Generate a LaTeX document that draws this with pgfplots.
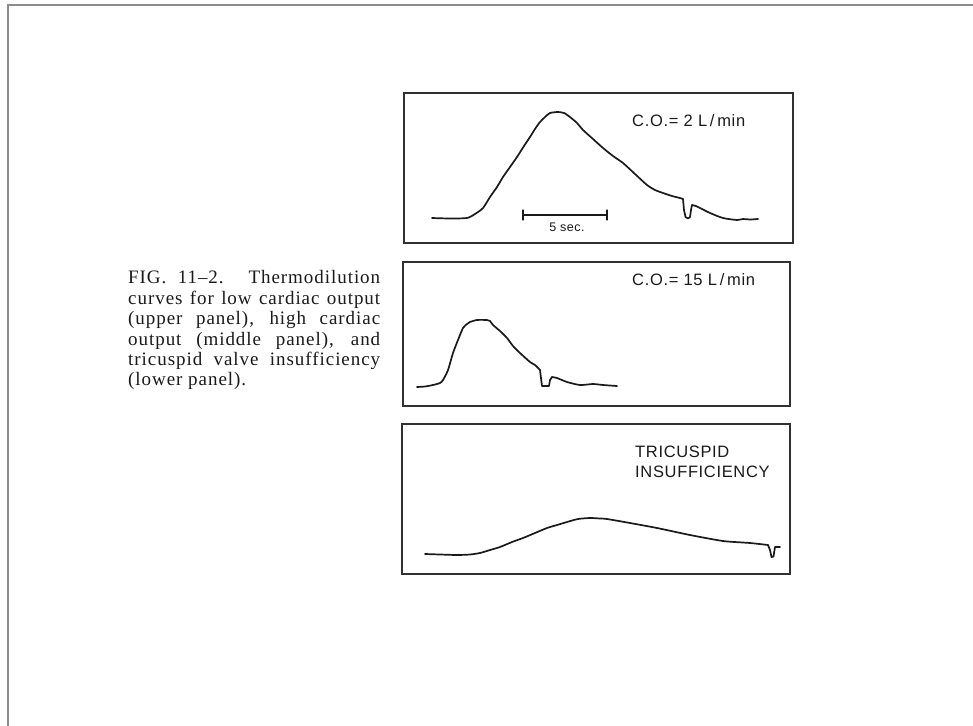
\documentclass[border=0pt]{standalone}
\usepackage{fontspec}
\usepackage{pgfplots}
\pgfplotsset{compat=1.18}
\newfontfamily\capfont[LetterSpace=5]{Liberation Serif}
\newfontfamily\labfont[LetterSpace=4]{Liberation Sans}
\definecolor{ink}{HTML}{1A1A1A}
\definecolor{frame}{HTML}{8C8C8C}
\pgfplotsset{
  panel/.style={scale only axis, anchor=north west, xtick=\empty, ytick=\empty,
    y dir=reverse, axis line style={line width=1.1bp, ink!90}},
  curve/.style={ink, no markers, line width=1.7bp, line join=round, line cap=round},
}
\begin{document}
\begin{tikzpicture}
\useasboundingbox (0bp,0bp) rectangle (973bp,-726bp);
\fill[white] (0bp,0bp) rectangle (973bp,-726bp);
\draw[frame, line width=2bp] (7.5bp,-726bp) -- (7.5bp,-4.5bp) -- (973bp,-4.5bp);

% caption
\node[anchor=north west, inner sep=0pt] at (128bp,-270.5bp) {\parbox{252bp}{\capfont\fontsize{19bp}{20.4bp}\selectfont
\hyphenpenalty=10000 \tolerance=10000 \color{ink}%
FIG. 11–2. Thermodilution\linebreak
curves for low cardiac output\linebreak
(upper panel), high cardiac\linebreak
output (middle panel), and\linebreak
tricuspid valve insufficiency\linebreak
(lower panel).}};

% upper panel
\begin{axis}[panel, at={(404bp,-93bp)}, width=389bp, height=150bp,
  xmin=404, xmax=793, ymin=93, ymax=243]
\addplot[curve, smooth, tension=0.4] coordinates {(432,218)(450,218.5)(467,218)(475,214)(483,208)(490,197)(497,187)(503,177)(510,167)(517,157)(524,146)(530,137)(535,129)(540,122)(545,117)(550,113)(558,112)(564,113)(570,117)(577,123)(583,130)(593,139)(603,148)(613,156)(623,163)(635,174)(647,185)(655,190)(663,193)(672,196)(680,198)(683,199)};
\addplot[curve] coordinates {(683,199)(684,210)(685.5,217)(688,218.5)(690,217)(691,210)(692,205)(696,206)};
\addplot[curve, smooth, tension=0.4] coordinates {(696,206)(700,208)(710,213)(723,218)(737,220)(743,219)(750,219.5)(758,219)};
\addplot[curve, line width=1.2bp] coordinates {(523,215)(607,215)};
\addplot[curve, line width=1.2bp] coordinates {(523,210)(523,220)};
\addplot[curve, line width=1.2bp] coordinates {(607,210)(607,220)};
\node[anchor=base, inner sep=0pt, text=ink] at (axis cs:567,231) {\labfont\fontsize{12.5bp}{14bp}\selectfont 5 sec.};
\node[anchor=base west, inner sep=0pt, text=ink] at (axis cs:632,126) {\labfont\fontsize{16.5bp}{19bp}\selectfont C.O.= 2 L\,/\,min};
\end{axis}

% middle panel
\begin{axis}[panel, at={(403bp,-262bp)}, width=387bp, height=144bp,
  xmin=403, xmax=790, ymin=262, ymax=406]
\addplot[curve, smooth, tension=0.4] coordinates {(417,387)(425,386.5)(433,385)(440,383)(443,380)(448,370)(453,353)(458,340)(463,328)(467,324)(470,322)(477,320)(487,320)(490,321)(493,325)(500,331)(507,338)(513,346)(520,353)(530,362)(535,365)(540,370)};
\addplot[curve] coordinates {(540,370)(541,378)(542,386)(549,386)(550,380)(552,377)};
\addplot[curve, smooth, tension=0.4] coordinates {(552,377)(557,378)(567,382)(580,385)(593,384)(603,385)(617,386)};
\node[anchor=base west, inner sep=0pt, text=ink] at (axis cs:632,285) {\labfont\fontsize{16.5bp}{19bp}\selectfont C.O.= 15 L\,/\,min};
\end{axis}

% lower panel
\begin{axis}[panel, at={(402bp,-424bp)}, width=388bp, height=150bp,
  xmin=402, xmax=790, ymin=424, ymax=574]
\addplot[curve, smooth, tension=0.4] coordinates {(425,554)(440,554.5)(457,555)(470,554.5)(480,553)(490,550)(500,547)(512,542)(523,538)(535,533)(547,528)(557,525)(567,522)(578,519)(590,518)(600,518.5)(607,519)(630,523)(657,528)(690,535)(723,541)(750,543)(768,545)};
\addplot[curve] coordinates {(768,545)(770,550)(771.5,557)(773.5,556.5)(775,547)(780,547)};
\node[anchor=base west, inner sep=0pt, text=ink] at (axis cs:635,457) {\labfont\fontsize{16.5bp}{19bp}\selectfont TRICUSPID};
\node[anchor=base west, inner sep=0pt, text=ink] at (axis cs:635,477) {\labfont\fontsize{16.5bp}{19bp}\selectfont INSUFFICIENCY};
\end{axis}
\end{tikzpicture}
\end{document}
